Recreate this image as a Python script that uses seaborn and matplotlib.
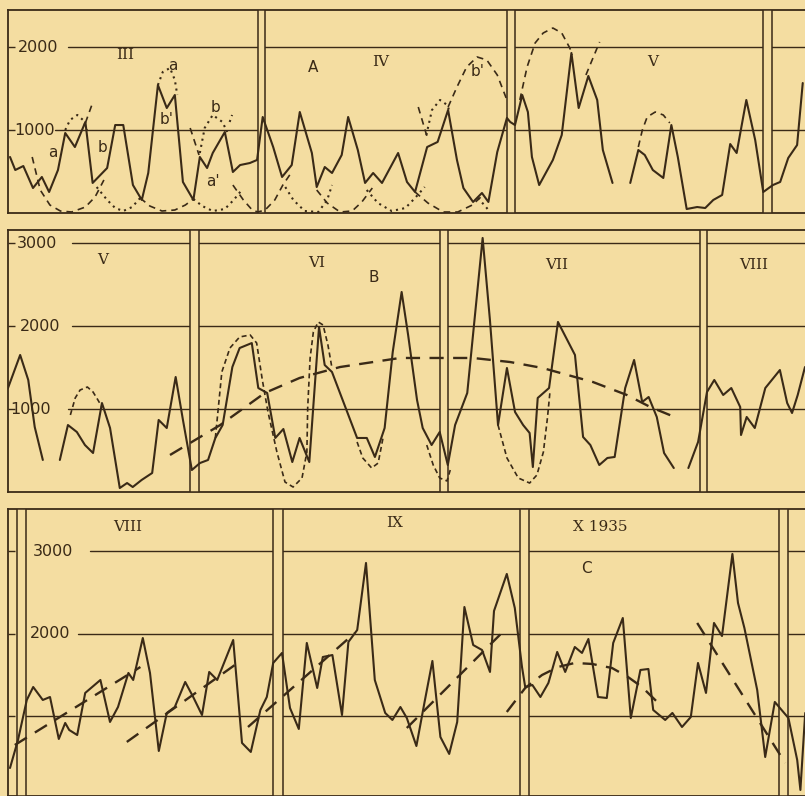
import numpy as np
import pandas as pd
import matplotlib
matplotlib.use("Agg")
import matplotlib.pyplot as plt
import seaborn as sns

sns.set_style("white")
plt.rcParams['font.family'] = ['DejaVu Sans']

BG = '#f4dda1'
INK = '#3a2a17'

# ---------------- Panel A (March-May) ----------------
A_solid_x1 = [0.25,0.9,1.9,3.1,4.2,5.1,6.2,7.1,8.3,9.6,10.5,12.3,13.3,14.3,15.5,16.6,17.4,18.6,19.7,20.7,21.7,23.0,23.8,24.7,25.4,26.9,27.9,28.8,30.0,30.9,31.6,32.9,34.0,35.2,36.2,37.7,38.3,39.3,40.2,41.4,42.2,43.4,44.3,45.3,46.4,48.4,49.5,50.5,52.0,53.3,54.6,55.7,56.5,57.7,58.8,59.6,60.7,61.9,62.3,62.9,63.8,64.5,65.0,65.9,67.6,68.7,69.9,70.8,72.0,73.1,73.8,75.0]
A_solid_v1 = [675,518,566,301,434,253,518,964,795,1097,362,542,1060,1060,337,157,482,1542,1265,1422,374,157,675,542,723,976,494,578,602,639,1157,795,434,578,1217,723,313,554,482,699,1157,759,362,482,362,723,374,253,795,856,1241,639,301,133,241,133,735,1145,1097,1060,1422,1217,675,337,639,940,1928,1265,1651,1362,759,362]
A_solid_x2 = [77.2,78.2,79.0,80.0,81.3,82.3,83.1,84.2,85.5,86.5,87.5,88.6,89.6,90.4,91.6,92.7,93.7,94.9,95.8,96.8,97.9,98.6]
A_solid_v2 = [362,759,699,518,422,1060,675,48,72,60,157,217,831,723,1362,880,253,337,374,663,819,1566]

A_dashed = [
    ([3.0,4.0,5.2,6.5,7.9,9.6,10.8,11.9], [675,277,96,24,12,72,193,398]),
    ([16.4,17.6,19.1,20.7,22.0,23.0], [181,84,24,36,96,169]),
    ([27.9,29.2,30.3,31.0,31.9,33.1,34.1,35.2], [337,157,36,12,36,157,337,494]),
    ([38.3,39.6,41.2,42.7,43.9,45.2], [277,120,12,24,133,301]),
    ([50.5,52.1,54.0,55.8,57.6,58.8], [253,120,12,12,96,205]),
    ([9.6,10.4], [1085,1301]),
    ([22.6,23.7], [1024,699]),
    ([50.9,52.0], [1277,916]),
    ([54.6,55.7,56.9,58.2,59.4,60.7,61.9], [1277,1518,1759,1880,1844,1663,1362]),
    ([63.5,64.4,65.4,66.4,67.6,68.7,69.7,70.0], [1362,1759,2049,2169,2229,2169,1988,1904]),
    ([71.7,73.4], [1663,2061]),
    ([78.2,78.7,79.3,80.3,81.3,82.1], [795,1000,1157,1217,1181,1085]),
]
A_dotted = [
    ([11.0,12.3,13.3,14.3,15.4,16.4], [313,157,60,24,72,181]),
    ([23.0,24.1,25.4,26.9,28.0,29.0], [169,84,24,48,157,277]),
    ([34.4,35.4,36.8,38.5,39.6,40.2], [313,157,24,12,157,337]),
    ([44.5,45.9,47.6,49.3,50.5,51.7], [277,120,24,60,181,313]),
    ([58.3,59.2,59.8], [181,84,12]),
    ([7.1,7.7,8.6,9.3,9.8], [1000,1121,1181,1121,1000]),
    ([18.6,19.2,20.1,20.7,21.0], [1542,1699,1747,1603,1422]),
    ([23.8,24.4,25.4,26.6,27.2], [723,1024,1181,1097,976]),
    ([27.5,27.8], [1097,1181]),
    ([51.9,52.6,53.6,54.5,54.8], [940,1241,1362,1301,1217]),
]
A_bounds = [(31.02, 31.89), (61.9, 62.9), (93.67, 94.8)]
A_labels = [("III", 14.5, 1904), ("IV", 46.2, 1820), ("V", 80.0, 1820)]
A_letters = [("a", 20.5, 1783), ("b'", 19.7, 1121), ("a", 5.5, 735), ("b", 11.7, 795),
             ("b", 25.8, 1277), ("a'", 25.4, 374), ("A", 37.8, 1759), ("b'", 58.3, 1699)]
A_ticks = [1000, 2000]

# ---------------- Panel B (May-August) ----------------
B_x1 = [0,1.5,2.5,3.3,4.3]
B_v1 = [1253,1651,1350,783,386]
B_x2 = [6.4,7.4,8.5,9.5,10.5,11.6,12.6,13.8,14.7,15.4,16.5,17.8,18.6,19.6,20.7,21.6,22.7,23.7,24.7,25.6,26.5,27.7,28.6,30.1,30.9,32.0,33.0,34.0,35.1,36.0,37.2,38.4,39.1,40.0,43.1,44.3,45.3,46.5,47.5,48.6,49.4,50.5,51.2,52.3,53.3,54.3,55.2,56.7,58.6,59.5,60.5,61.6,62.6,63.6,64.4,64.8,65.4,66.8,67.9,70.0,71.0,71.9,73.0,74.0,74.9,76.2,77.3,78.3,79.1,80.1,81.0,82.2]
B_v2 = [386,807,723,566,470,1072,771,48,108,60,145,229,868,771,1386,868,265,349,386,651,807,1506,1735,1795,1253,1193,651,759,361,651,361,1988,1530,1446,651,651,422,771,1687,2410,1892,1109,771,566,723,325,807,1193,3061,2073,807,1494,964,807,711,301,1133,1253,2049,1651,663,566,325,410,422,1253,1591,1085,1145,904,470,289]
B_x3 = [84.0,85.2,86.3,87.2,88.3,89.3,90.4,90.5,91.2,92.2,93.5,95.3,96.2,96.8,97.5,98.4]
B_v3 = [289,603,1205,1350,1169,1253,1024,687,904,771,1253,1470,1072,952,1169,1506]

B_short = [
    ([7.7,8.3,8.9,9.8,10.5,11.1,11.6], [928,1133,1229,1265,1205,1109,1024]),
    ([25.6,26.4,27.4,28.6,29.9,30.7,31.4,32.1,33.2,34.2,35.2,36.3,36.9,37.0,37.3,37.7,38.3,38.9,39.5,40.0],
     [651,1446,1735,1868,1892,1795,1350,964,482,120,60,169,482,1012,1615,1928,2049,2012,1771,1494]),
    ([43.1,43.8,44.9,45.7,46.3], [603,410,289,349,651]),
    ([51.7,52.5,53.3,54.2,54.6], [566,325,169,133,265]),
    ([60.5,61.6,63.0,64.4,65.3,66.1,66.6,66.9], [807,410,169,108,205,482,892,1193]),
]
B_trend_x = [20.0,26.2,31.7,36.0,41.0,48.4,53.3,57.4,62.0,66.0,72.2,76.4,79.3,82.6]
B_trend_v = [446,807,1193,1374,1506,1615,1615,1615,1566,1494,1326,1169,1024,892]
B_bounds = [(22.47, 23.58), (53.33, 54.32), (85.43, 86.3)]
B_labels = [("V", 11.7, 2796), ("VI", 38.1, 2759), ("VII", 67.8, 2735), ("VIII", 92.0, 2735)]
B_letters = [("B", 45.1, 2579)]
B_ticks = [1000, 2000, 3000]

# ---------------- Panel C (August-October 1935) ----------------
C_x = [-2.0,-1.0,0.1,0.9,2.1,3.0,4.1,4.9,5.4,6.4,7.4,9.3,10.5,11.5,12.8,13.4,14.6,15.5,16.6,17.6,18.6,19.9,20.9,22.0,22.9,23.9,25.9,27.0,28.1,29.3,30.1,30.9,32.0,33.0,34.1,35.1,36.4,37.1,38.3,39.5,40.3,41.4,42.5,43.6,44.9,45.8,46.8,47.6,48.8,49.8,50.8,51.8,52.9,53.9,54.8,55.9,57.0,58.0,58.5,60.1,61.1,62.0,62.4,63.3,64.3,65.3,66.4,67.4,68.6,69.5,70.3,71.5,72.6,73.4,74.6,75.6,76.8,77.8,78.4,79.9,80.8,82.0,83.1,84.0,85.0,86.0,87.0,88.3,89.0,89.8,91.4,92.4,93.6,95.3,96.4,96.8,97.4]
C_v = [375,714,1198,1355,1198,1234,726,920,835,774,1283,1440,932,1113,1525,1440,1948,1525,581,1041,1113,1416,1234,1016,1537,1440,1924,678,569,1077,1234,1646,1767,1101,847,1888,1343,1718,1742,1016,1900,2045,2856,1440,1041,956,1113,980,641,1162,1670,750,545,932,2323,1863,1803,1537,2275,2723,2311,1597,1355,1379,1234,1404,1779,1537,1839,1767,1936,1234,1222,1888,2190,980,1561,1573,1077,956,1041,871,992,1646,1283,2130,1972,2965,2372,2069,1319,508,1174,980,472,109,1041]
C_trends = [
    ([-1.4,14.3], [653,1597]),
    ([12.6,26.1], [690,1621]),
    ([27.75,41.1], [871,2009]),
    ([47.6,59.6], [859,2021]),
    ([60.1,62.4,64.5,66.5,68.6,70.75,73.25,75.25,77.0,78.9], [1053,1343,1500,1597,1646,1634,1585,1476,1355,1174]),
    ([83.9,94.9], [2130,436]),
]
C_bounds = [(-1.125, 0.0), (30.875, 32.125), (61.75, 62.875), (94.125, 95.25)]
C_labels = [("VIII", 12.75, 3291), ("IX", 46.1, 3340), ("X 1935", 71.75, 3291)]
C_letters = [("C", 70.1, 2795)]
C_ticks = [1000, 2000, 3000]

assert len(A_solid_x1) == len(A_solid_v1) and len(A_solid_x2) == len(A_solid_v2)
assert len(B_x2) == len(B_v2) and len(B_x3) == len(B_v3)
assert len(C_x) == len(C_v)

W, H = 805, 796
fig = plt.figure(figsize=(W/100, H/100), dpi=100, facecolor=BG)

def add_axes(top_px, bot_px):
    return fig.add_axes([8/W, 1 - bot_px/H, 1 - 8/W, (bot_px - top_px)/H])

axA = add_axes(10, 213)
axB = add_axes(230, 492)
axC = add_axes(509, 796)

axA.set_xlim(0, 98.88); axA.set_ylim(0, 2446)
axB.set_xlim(0, 98.4); axB.set_ylim(0, 3157)
axC.set_xlim(-2.25, 97.375); axC.set_ylim(36, 3509)

def line(ax, xs, vs, ls='-', lw=1.5):
    df = pd.DataFrame({'x': xs, 'v': vs})
    sns.lineplot(data=df, x='x', y='v', ax=ax, sort=False, estimator=None,
                 color=INK, lw=lw, linestyle=ls, zorder=5)

def frame(ax, bounds, ticks, label_specs, gstarts):
    ax.set_facecolor(BG)
    for s in ['left', 'top', 'bottom']:
        ax.spines[s].set_color(INK); ax.spines[s].set_linewidth(1.3)
    ax.spines['right'].set_visible(False)
    x0, x1 = ax.get_xlim()
    for t, gs in zip(ticks, gstarts):
        ax.plot([gs, x1], [t, t], color=INK, lw=1.0, zorder=2)
    for (a, b) in bounds:
        ax.axvspan(a, b, facecolor=BG, edgecolor=INK, lw=1.1, zorder=3)
    ax.set_xticks([])
    ax.set_yticks(ticks)
    ax.set_yticklabels([])
    ax.tick_params(axis='y', direction='in', length=5, width=1, color=INK, left=True)
    for (txt, x, y) in label_specs:
        ax.text(x, y, txt, ha='left', va='center', fontsize=11.5, color=INK, zorder=4)

def labels(ax, specs, family='DejaVu Serif', size=11):
    for (txt, x, y) in specs:
        ax.text(x, y, txt, ha='center', va='center', fontsize=size, color=INK,
                family=family, zorder=6)

# Panel A
frame(axA, A_bounds, A_ticks, [("1000", 0.74, 1000), ("2000", 1.24, 2000)], [5.8, 7.4])
line(axA, A_solid_x1, A_solid_v1)
line(axA, A_solid_x2, A_solid_v2)
for xs, vs in A_dashed:
    line(axA, xs, vs, ls=(0, (4, 3)), lw=1.2)
for xs, vs in A_dotted:
    line(axA, xs, vs, ls=(0, (1, 2)), lw=1.5)
labels(axA, A_labels)
labels(axA, A_letters, family='DejaVu Sans', size=11)

# Panel B
frame(axB, B_bounds, B_ticks, [("1000", 0.25, 1000), ("2000", 1.5, 2000), ("3000", 1.1, 3000)], [7.4, 7.9, 7.9])
line(axB, B_x1, B_v1)
line(axB, B_x2, B_v2)
line(axB, B_x3, B_v3)
for xs, vs in B_short:
    line(axB, xs, vs, ls=(0, (3, 2)), lw=1.2)
line(axB, B_trend_x, B_trend_v, ls=(0, (6, 4)), lw=1.7)
labels(axB, B_labels)
labels(axB, B_letters, family='DejaVu Sans', size=11)

# Panel C
frame(axC, C_bounds, C_ticks, [("2000", 0.5, 2000), ("3000", 0.9, 3000)], [0.0, 6.5, 8.0])
line(axC, C_x, C_v)
for xs, vs in C_trends:
    line(axC, xs, vs, ls=(0, (6, 4)), lw=1.7)
labels(axC, C_labels)
labels(axC, C_letters, family='DejaVu Sans', size=11)

for ax in (axA, axB, axC):
    ax.set_xlabel(''); ax.set_ylabel('')

fig.savefig('out.png', dpi=100, facecolor=BG)
